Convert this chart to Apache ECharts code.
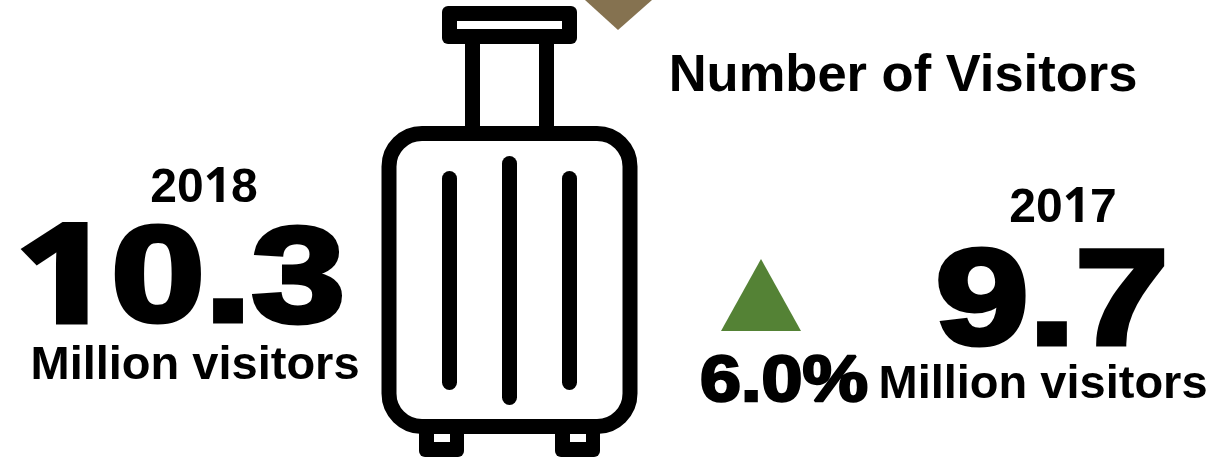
<!DOCTYPE html>
<html>
<head>
<meta charset="utf-8">
<title>Number of Visitors</title>
<script src="https://cdn.jsdelivr.net/npm/echarts@6/dist/echarts.min.js"></script>
<style>
html, body { margin: 0; padding: 0; background: #fff; }
#chart1 { width: 1229px; height: 462px; }
</style>
</head>
<body>
<div id="chart1"></div>
<script>
var title = "Number of Visitors";
var years = ["2018", "2017"];
var visitors = [10.3, 9.7];
var unit = "Million visitors";
var change = 6.0;

var FONT = '"Liberation Sans", Arial, sans-serif';
// liberation's "1" has a foot, the reference has none
var ONE_FONT = '"Open Sans", "Liberation Sans", sans-serif';

function label(text, cx, cy, size, opts) {
    opts = opts || {};
    var s = {
        text: text,
        x: 0,
        y: 0,
        align: "center",
        verticalAlign: "middle",
        fill: "#000",
        font: "bold " + size + "px " + FONT,
        stroke: opts.stroke ? "#000" : null,
        lineWidth: opts.stroke || 0,
        lineJoin: "miter"
    };
    if (opts.digits) {
        s.text = text.replace(/[^1]+/g, "{d|$&}").replace(/1/g, "{o|1}");
        s.rich = {
            d: { fill: "#000", font: s.font, stroke: s.stroke, lineWidth: s.lineWidth, lineJoin: "miter" },
            o: { fill: "#000", font: "bold " + size + "px " + ONE_FONT, stroke: s.stroke, lineWidth: s.lineWidth, lineJoin: "miter" }
        };
    }
    return {
        type: "text",
        x: cx,
        y: cy,
        scaleX: opts.scaleX || 1,
        style: s
    };
}

function box(x, y, w, h, r, fill) {
    return {
        type: "rect",
        shape: { x: x, y: y, width: w, height: h, r: r },
        style: { fill: fill }
    };
}

// suitcase icon
function suitcase() {
    var list = [];
    // handle
    list.push(box(442, 6, 135, 38, 6, "#000"));
    list.push(box(457, 21, 105, 8, 0, "#fff"));
    list.push(box(465, 40, 15, 90, 0, "#000"));
    list.push(box(539, 40, 15, 90, 0, "#000"));
    // wheels
    list.push(box(419, 425, 45, 32, 6, "#000"));
    list.push(box(555, 425, 45, 32, 6, "#000"));
    list.push(box(434, 434, 16, 8, 0, "#fff"));
    list.push(box(570, 434, 16, 8, 0, "#fff"));
    // body
    list.push({
        type: "rect",
        shape: { x: 389, y: 133.5, width: 241, height: 293, r: 33 },
        style: { fill: "#fff", stroke: "#000", lineWidth: 15 }
    });
    // ribs
    list.push(box(442, 171, 15, 219, 7.5, "#000"));
    list.push(box(502, 156, 15, 249, 7.5, "#000"));
    list.push(box(562, 171, 15, 219, 7.5, "#000"));
    return list;
}

var chart = echarts.init(document.getElementById("chart1"));
var elements = suitcase();

elements.push({
    type: "polygon",
    shape: { points: [[585, 0], [652, 0], [618, 30]] },
    style: { fill: "#857250" }
});
elements.push({
    type: "polygon",
    shape: { points: [[721, 331], [801, 331], [761, 259]] },
    style: { fill: "#548235" }
});

elements.push(label(title, 903, 76.5, 52.5));
elements.push(label(years[0], 204, 188.5, 48, { digits: true }));
elements.push(label(visitors[0].toFixed(1), 180, 283.5, 136, { scaleX: 1.236, stroke: 5, digits: true }));
elements.push(label(unit, 195, 366.5, 47));
elements.push(label(years[1], 1063, 208.5, 48, { digits: true }));
elements.push(label(visitors[1].toFixed(1), 1052, 306, 136, { scaleX: 1.232, stroke: 5 }));
elements.push(label(unit, 1043, 385.5, 47));
elements.push(label(change.toFixed(1) + "%", 784, 383, 64, { scaleX: 1.15, stroke: 2.5 }));

chart.setOption({
    backgroundColor: "#fff",
    animation: false,
    graphic: { elements: elements }
});
</script>
</body>
</html>
